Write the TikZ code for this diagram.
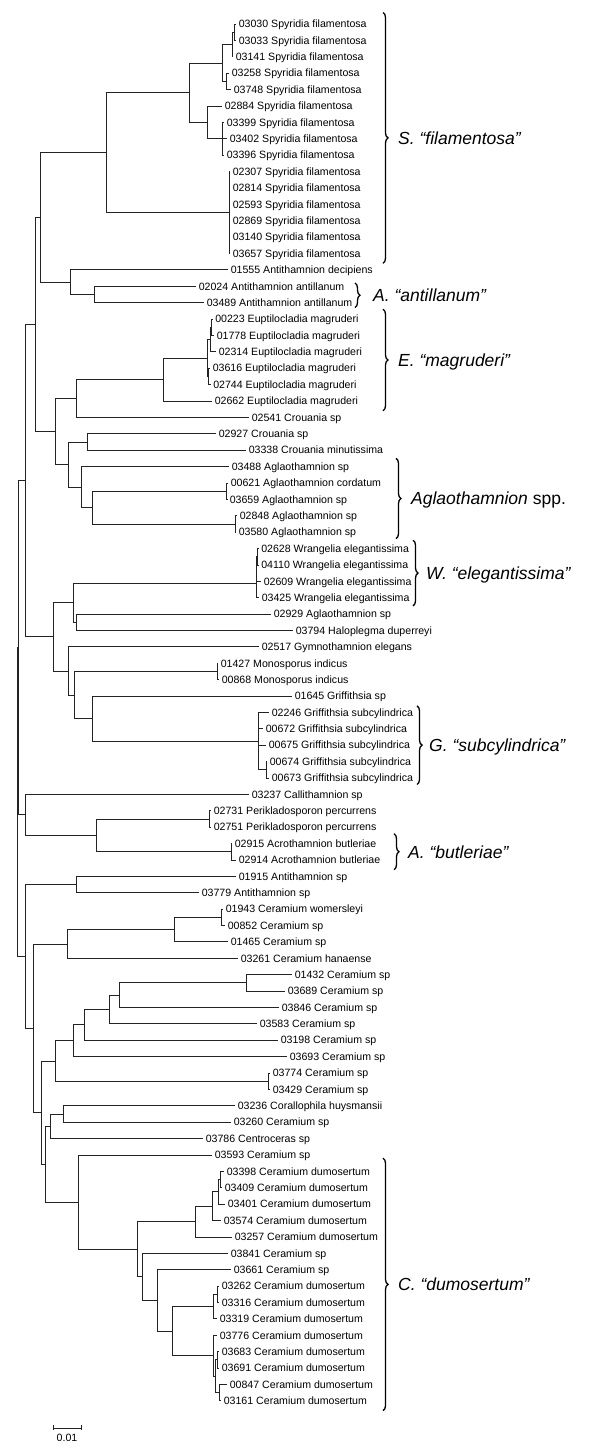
\documentclass[tikz,border=0pt]{standalone}
\usepackage{fontspec}
\setmainfont{Liberation Sans}
\usetikzlibrary{calc,decorations.pathreplacing}
\definecolor{treeline}{RGB}{35,35,35}
\tikzset{
  % tree branches
  branch/.style    = {line width=0.75pt, draw=treeline},
  % taxon labels at the tips
  leaflab/.style   = {anchor=base west, inner sep=0pt, xshift=2.6pt, yshift=-3.8pt,
                      font=\fontsize{10.6}{12}\selectfont},
  % clade brackets on the right
  cladebrace/.style= {decorate, decoration={brace, amplitude=5pt}, line width=1.3pt},
  cladelab/.style  = {anchor=base west, inner sep=0pt, yshift=-6.3pt,
                      font=\fontsize{17.5}{20}\selectfont\itshape},
}
\begin{document}
\begin{tikzpicture}[x=1pt, y=-16.39pt]
  \useasboundingbox (0pt,7.61pt) rectangle (600pt,-1445.39pt);
  % tips: row / branch end / label
  \foreach \r/\x/\lab in {
    1/236/03030 Spyridia filamentosa, 2/236/03033 Spyridia filamentosa,
    3/233/03141 Spyridia filamentosa, 4/229/03258 Spyridia filamentosa,
    5/231/03748 Spyridia filamentosa, 6/222/02884 Spyridia filamentosa,
    7/224/03399 Spyridia filamentosa, 8/227/03402 Spyridia filamentosa,
    9/224/03396 Spyridia filamentosa, 10/230/02307 Spyridia filamentosa,
    11/230/02814 Spyridia filamentosa, 12/230/02593 Spyridia filamentosa,
    13/230/02869 Spyridia filamentosa, 14/230/03140 Spyridia filamentosa,
    15/230/03657 Spyridia filamentosa, 16/228/01555 Antithamnion decipiens,
    17/196/02024 Antithamnion antillanum, 18/204/03489 Antithamnion antillanum,
    19/212.5/00223 Euptilocladia magruderi, 20/214/01778 Euptilocladia magruderi,
    21/216/02314 Euptilocladia magruderi, 22/210/03616 Euptilocladia magruderi,
    23/210.5/02744 Euptilocladia magruderi, 24/212/02662 Euptilocladia magruderi,
    25/249/02541 Crouania sp, 26/216/02927 Crouania sp,
    27/246/03338 Crouania minutissima, 28/229/03488 Aglaothamnion sp,
    29/228/00621 Aglaothamnion cordatum, 30/227/03659 Aglaothamnion sp,
    31/237/02848 Aglaothamnion sp, 32/236/03580 Aglaothamnion sp,
    33/258.5/02628 Wrangelia elegantissima, 34/258.5/04110 Wrangelia elegantissima,
    35/261/02609 Wrangelia elegantissima, 36/259/03425 Wrangelia elegantissima,
    37/271/02929 Aglaothamnion sp, 38/293/03794 Haloplegma duperreyi,
    39/259/02517 Gymnothamnion elegans, 40/218/01427 Monosporus indicus,
    41/219/00868 Monosporus indicus, 42/292/01645 Griffithsia sp,
    43/269/02246 Griffithsia subcylindrica, 44/263/00672 Griffithsia subcylindrica,
    45/266/00675 Griffithsia subcylindrica, 46/267/00674 Griffithsia subcylindrica,
    47/269/00673 Griffithsia subcylindrica, 48/249/03237 Callithamnion sp,
    49/211/02731 Perikladosporon percurrens, 50/211/02751 Perikladosporon percurrens,
    51/232/02915 Acrothamnion butleriae, 52/236/02914 Acrothamnion butleriae,
    53/236/01915 Antithamnion sp, 54/199/03779 Antithamnion sp,
    55/223/01943 Ceramium womersleyi, 56/225/00852 Ceramium sp,
    57/228/01465 Ceramium sp, 58/238/03261 Ceramium hanaense,
    59/292/01432 Ceramium sp, 60/285/03689 Ceramium sp,
    61/279/03846 Ceramium sp, 62/257/03583 Ceramium sp,
    63/278/03198 Ceramium sp, 64/287/03693 Ceramium sp,
    65/270/03774 Ceramium sp, 66/270/03429 Ceramium sp,
    67/235/03236 Corallophila huysmansii, 68/231/03260 Ceramium sp,
    69/203/03786 Centroceras sp, 70/212/03593 Ceramium sp,
    71/224/03398 Ceramium dumosertum, 72/222/03409 Ceramium dumosertum,
    73/225/03401 Ceramium dumosertum, 74/221/03574 Ceramium dumosertum,
    75/232/03257 Ceramium dumosertum, 76/228/03841 Ceramium sp,
    77/231/03661 Ceramium sp, 78/219/03262 Ceramium dumosertum,
    79/219/03316 Ceramium dumosertum, 80/217/03319 Ceramium dumosertum,
    81/217/03776 Ceramium dumosertum, 82/219/03683 Ceramium dumosertum,
    83/219/03691 Ceramium dumosertum, 84/227/00847 Ceramium dumosertum,
    85/221/03161 Ceramium dumosertum}
  {
    \coordinate (l\r) at (\x,\r);
    \node[leaflab] (t\r) at (l\r) {\lab};
  }
  % internal nodes: name / depth / row
  \foreach \n/\x/\r in {
    s1/234/1.5, s2/232/2.25, s3/226/4.5, s4/222/3.375, s5/222/8, s6/207/7,
    s7/189/5.1875, s8/229/12.5, s9/106/8.84375, a1/94/17.5, a2/70/16.75,
    n1/40/12.796875, e1/211.5/19.5, e2/210/20.25, e3/208/22.5, e4/207/21.375,
    e5/163/22.6875, e6/76/23.84375, c1/87/26.5, g1/226.5/29.5, g2/235/31.5,
    g3/92/30.5, g4/81/29.25, c2/68/27.875, n3/55/25.859375, n2/35/19.328125,
    w1/257/33.5, w2/256.5/34.25, w3/256/35.125, w4/76/37.5, w5/73/36.3125,
    m1/217/40.5, gr1/266/46.5, gr2/258/44.75, gr3/92/43.375, w6/74/41.9375,
    w7/68/40.46875, w8/53/38.390625, n4/25/28.859375,
    p1/209/49.5, b1/231/51.5, p2/96/50.5, n5/25/49.25, r1/18.5/39.0546875,
    t1/76/53.5, k1/221/55.5, k2/174/56.25, k3/67/57.125,
    q1/246/59.5, q2/119/60.25, q3/109/61.125, q4/84/62.0625, q5/73/63.03125,
    q6/268/65.5, q7/55/64.265625, h1/63/67.5, h2/50/68.25,
    d1/220/71.5, d2/218/72.25, d3/212/73.125, d4/195/74.0625,
    f1/217/78.5, f2/213/79.25, f3/217/82.5, f4/219/84.5, f5/215/83.5,
    f6/213/82.25, f7/172/80.75, f8/157/78.875, f9/142/77.4375,
    d5/137/75.75, d6/78/72.875, h3/45/70.5625, c3/41/67.4140625,
    c4/33/62.26953125, n6/25/57.884765625, rt/17.5/48.4697265625}
    \coordinate (\n) at (\x,\r);
  % branches
  \foreach \p/\c in {
    s1/l1, s1/l2, s2/s1, s2/l3, s3/l4, s3/l5, s4/s2, s4/s3,
    s5/l7, s5/l8, s5/l9, s6/l6, s6/s5, s7/s4, s7/s6,
    s8/l10, s8/l11, s8/l12, s8/l13, s8/l14, s8/l15, s9/s7, s9/s8,
    a1/l17, a1/l18, a2/l16, a2/a1, n1/s9, n1/a2,
    e1/l19, e1/l20, e2/e1, e2/l21, e3/l22, e3/l23, e4/e2, e4/e3,
    e5/e4, e5/l24, e6/e5, e6/l25,
    c1/l26, c1/l27, g1/l29, g1/l30, g2/l31, g2/l32, g3/g1, g3/g2,
    g4/l28, g4/g3, c2/c1, c2/g4, n3/e6, n3/c2, n2/n1, n2/n3,
    w1/l33, w1/l34, w2/w1, w2/l35, w3/w2, w3/l36, w4/l37, w4/l38,
    w5/w3, w5/w4, m1/l40, m1/l41, gr1/l46, gr1/l47,
    gr2/l43, gr2/l44, gr2/l45, gr2/gr1, gr3/l42, gr3/gr2,
    w6/m1, w6/gr3, w7/l39, w7/w6, w8/w5, w8/w7, n4/n2, n4/w8,
    p1/l49, p1/l50, b1/l51, b1/l52, p2/p1, p2/b1, n5/l48, n5/p2,
    r1/n4, r1/n5, t1/l53, t1/l54,
    k1/l55, k1/l56, k2/k1, k2/l57, k3/k2, k3/l58,
    q1/l59, q1/l60, q2/q1, q2/l61, q3/q2, q3/l62, q4/q3, q4/l63,
    q5/q4, q5/l64, q6/l65, q6/l66, q7/q5, q7/q6,
    h1/l67, h1/l68, h2/h1, h2/l69,
    d1/l71, d1/l72, d2/d1, d2/l73, d3/d2, d3/l74, d4/d3, d4/l75,
    f1/l78, f1/l79, f2/f1, f2/l80, f3/l82, f3/l83, f4/l84, f4/l85,
    f5/f3, f5/f4, f6/l81, f6/f5, f7/f2, f7/f6, f8/l77, f8/f7,
    f9/l76, f9/f8, d5/d4, d5/f9, d6/l70, d6/d5, h3/h2, h3/d6,
    c3/q7, c3/h3, c4/k3, c4/c3, n6/t1, n6/c4, rt/r1, rt/n6}
    \draw[branch] (\p) |- (\c);
  % clade brackets
  \coordinate (bS1) at (383,0.3);   \coordinate (bS2) at (383,15.6);
  \coordinate (bA1) at (355,16.8);  \coordinate (bA2) at (355,18.3);
  \coordinate (bE1) at (383,18.4);  \coordinate (bE2) at (383,24.6);
  \coordinate (bG1) at (396,27.5);  \coordinate (bG2) at (396,32.4);
  \coordinate (bW1) at (413,32.5);  \coordinate (bW2) at (413,36.5);
  \coordinate (bC1) at (417,42.6);  \coordinate (bC2) at (417,47.4);
  \coordinate (bB1) at (394,50.4);  \coordinate (bB2) at (394,52.6);
  \coordinate (bD1) at (383,70.2);  \coordinate (bD2) at (383,85.6);
  \foreach \b in {bS,bA,bE,bG,bW,bC,bB,bD}
    \draw[cladebrace] (\b1) -- (\b2);
  \node[cladelab] (labS) at (398,7.95)  {S. “filamentosa”};
  \node[cladelab] (labA) at (373,17.55) {A. “antillanum”};
  \node[cladelab] (labE) at (398,21.5)  {E. “magruderi”};
  \node[cladelab] (labG) at (411,29.95) {Aglaothamnion \upshape spp.};
  \node[cladelab] (labW) at (426,34.5)  {W. “elegantissima”};
  \node[cladelab] (labC) at (429,45)    {G. “subcylindrica”};
  \node[cladelab] (labB) at (408,51.5)  {A. “butleriae”};
  \node[cladelab] (labD) at (398,77.9)  {C. “dumosertum”};
  % scale bar
  \coordinate (sb1) at (53,86.66);
  \coordinate (sb2) at (81,86.66);
  \draw[branch] (sb1) -- (sb2);
  \draw[branch] ([yshift=2.5pt]sb1) -- ([yshift=-2.5pt]sb1);
  \draw[branch] ([yshift=2.5pt]sb2) -- ([yshift=-2.5pt]sb2);
  \node[anchor=base, inner sep=0pt, yshift=-13.8pt, font=\fontsize{10.6}{12}\selectfont]
    (sblab) at ($(sb1)!.5!(sb2)$) {0.01};
\end{tikzpicture}
\end{document}
